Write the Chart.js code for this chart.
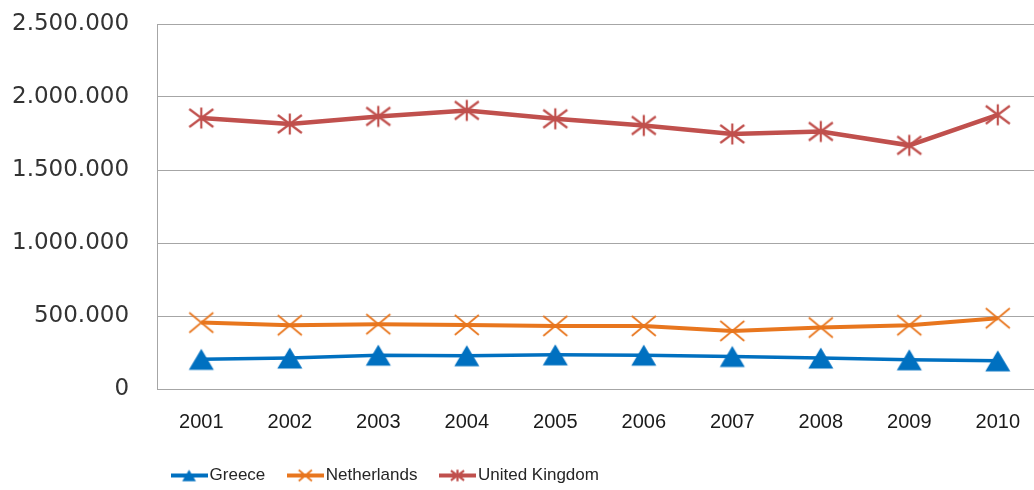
<!DOCTYPE html>
<html>
<head>
<meta charset="utf-8">
<script src="https://cdn.jsdelivr.net/npm/chart.js@4.4.1/dist/chart.umd.min.js"></script>
<style>
  html, body { margin: 0; padding: 0; background: #fff; overflow: hidden; width: 1034px; height: 490px; }
  /* plot runs slightly past the right edge of the window */
  #wrap { width: 1042px; height: 494px; }
</style>
</head>
<body>
<div id="wrap"><canvas id="chart"></canvas></div>
<script>
const years = ['2001', '2002', '2003', '2004', '2005', '2006', '2007', '2008', '2009', '2010'];
const greece = [203000, 212000, 232000, 228000, 234000, 232000, 223000, 212000, 200000, 193000];
const netherlands = [455000, 437000, 444000, 439000, 432000, 432000, 398000, 421000, 437000, 485000];
const unitedKingdom = [1856000, 1815000, 1867000, 1908000, 1851000, 1805000, 1747000, 1764000, 1669000, 1878000];
const yMin = 0;
const yMax = 2500000;
const yStep = 500000;

const BLUE = '#0070c0';
const ORANGE = '#e8761e';
const RED = '#c0504d';
const GRID = '#a6a6a6';
const CLEAR = 'rgba(0,0,0,0)';

// excel-like markers: triangle, x and asterisk
function drawMarker(ctx, kind, color, cx, cy, s) {
  ctx.strokeStyle = color;
  ctx.fillStyle = color;
  ctx.lineCap = 'butt';
  ctx.beginPath();
  if (kind === 'triangle') {
    ctx.moveTo(cx, cy - 10.5 * s);
    ctx.lineTo(cx + 12.5 * s, cy + 10.5 * s);
    ctx.lineTo(cx - 12.5 * s, cy + 10.5 * s);
    ctx.closePath();
    ctx.fill();
  } else if (kind === 'x') {
    ctx.lineWidth = 1.7;
    ctx.moveTo(cx - 12 * s, cy - 10 * s); ctx.lineTo(cx + 12 * s, cy + 10 * s);
    ctx.moveTo(cx - 12 * s, cy + 10 * s); ctx.lineTo(cx + 12 * s, cy - 10 * s);
    ctx.stroke();
  } else {
    ctx.lineWidth = 2.2;
    ctx.moveTo(cx, cy - 10.5 * s); ctx.lineTo(cx, cy + 10.5 * s);
    ctx.moveTo(cx - 12 * s, cy - 9 * s); ctx.lineTo(cx + 12 * s, cy + 9 * s);
    ctx.moveTo(cx - 12 * s, cy + 9 * s); ctx.lineTo(cx + 12 * s, cy - 9 * s);
    ctx.stroke();
  }
}

function markerImage(kind, color) {
  const c = document.createElement('canvas');
  c.width = 28; c.height = 26;
  drawMarker(c.getContext('2d'), kind, color, 14, 13, 1);
  return c;
}

function legendImage(kind, color, lw) {
  const c = document.createElement('canvas');
  c.width = 37; c.height = 24;
  const ctx = c.getContext('2d');
  ctx.strokeStyle = color;
  ctx.lineWidth = lw;
  ctx.beginPath();
  ctx.moveTo(0, 12); ctx.lineTo(37, 12);
  ctx.stroke();
  drawMarker(ctx, kind, color, 18.5, 12, 0.55);
  return c;
}

const legendIcons = [
  legendImage('triangle', BLUE, 4),
  legendImage('x', ORANGE, 4),
  legendImage('star', RED, 4)
];

// legend row starts just left of the plot area
const legendOffset = {
  id: 'legendOffset',
  afterLayout(chart) {
    chart.legend.left = chart.chartArea.left - 8;
  }
};

const thousands = (v) => String(v).replace(/\B(?=(\d{3})+(?!\d))/g, '.');

new Chart(document.getElementById('chart'), {
  type: 'line',
  data: {
    labels: years,
    datasets: [
      {
        label: 'Greece',
        data: greece,
        borderColor: BLUE,
        backgroundColor: BLUE,
        borderWidth: 3.5,
        pointStyle: markerImage('triangle', BLUE),
        pointRadius: 12,
        tension: 0
      },
      {
        label: 'Netherlands',
        data: netherlands,
        borderColor: ORANGE,
        backgroundColor: ORANGE,
        borderWidth: 4,
        pointStyle: markerImage('x', ORANGE),
        pointRadius: 12,
        tension: 0
      },
      {
        label: 'United Kingdom',
        data: unitedKingdom,
        borderColor: RED,
        backgroundColor: RED,
        borderWidth: 4.5,
        pointStyle: markerImage('star', RED),
        pointRadius: 12,
        tension: 0
      }
    ]
  },
  options: {
    responsive: true,
    maintainAspectRatio: false,
    animation: false,
    devicePixelRatio: 1,
    layout: { autoPadding: false, padding: { top: 24, left: 12, right: 0, bottom: 0 } },
    plugins: {
      tooltip: { enabled: false },
      legend: {
        position: 'bottom',
        align: 'start',
        labels: {
          usePointStyle: true,
          pointStyleWidth: 24,
          padding: 28,
          color: '#262626',
          font: { family: 'Liberation Sans', size: 17 },
          generateLabels(chart) {
            const items = Chart.defaults.plugins.legend.labels.generateLabels(chart);
            items.forEach((it, i) => { it.pointStyle = legendIcons[i]; });
            return items;
          }
        }
      }
    },
    scales: {
      x: {
        offset: true,
        // invisible tick marks give the gap below the axis
        grid: { display: false, drawTicks: true, tickLength: 16, tickColor: CLEAR },
        border: { display: true, color: GRID, width: 1 },
        ticks: {
          color: '#1a1a1a',
          font: { family: 'Liberation Sans', size: 20, lineHeight: 1.7 },
          padding: 0
        }
      },
      y: {
        min: yMin,
        max: yMax,
        grid: { color: GRID, lineWidth: 1, drawTicks: true, tickLength: 28, tickColor: CLEAR },
        border: { color: GRID, width: 1 },
        ticks: {
          stepSize: yStep,
          padding: 0,
          color: '#333333',
          font: { family: 'DejaVu Sans', size: 23 },
          callback: (v) => thousands(v)
        }
      }
    }
  },
  plugins: [legendOffset]
});
</script>
</body>
</html>
